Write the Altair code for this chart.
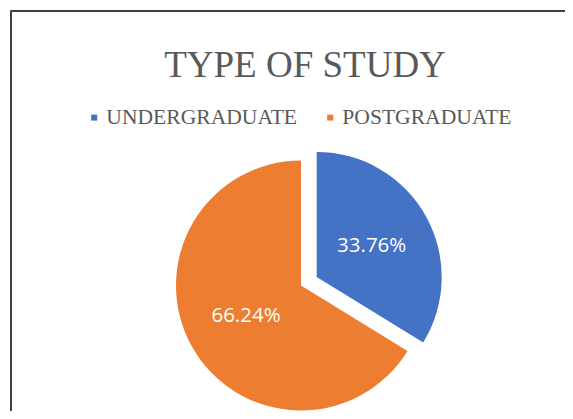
import altair as alt
import pandas as pd

# ---- data ----
categories = ["UNDERGRADUATE", "POSTGRADUATE"]
shares = [33.76, 66.24]
order = [0, 1]
colors = ["#4472C4", "#ED7D31"]
title_text = "TYPE OF STUDY"

df = pd.DataFrame({"cat": categories, "value": shares, "idx": order})

# ---- layout (chart coordinates, page offset 8px) ----
W, H = 557, 403
CX, CY = 293, 277.5          # centre of the pie
R = 125                      # pie radius
EXP_DX, EXP_DY = 15.7, -8.5  # explosion of the first slice
LABEL_R = 63

base = alt.Chart(df).transform_calculate(
    label="format(datum.value, '.2f') + '%'"
)

color_enc = alt.Color(
    "cat:N",
    scale=alt.Scale(domain=categories, range=colors),
    legend=alt.Legend(
        title=None,
        orient="none",
        legendX=75.4,
        legendY=98.5,
        direction="horizontal",
        symbolType="square",
        symbolSize=36,
        symbolStrokeWidth=0,
        symbolOpacity=1,
        labelFont="Liberation Serif",
        labelFontSize=21.6,
        labelColor="#595959",
        labelOffset=1.3,
        columnPadding=22,
        labelLimit=0,
    ),
)
theta_enc = alt.Theta("value:Q", stack=True)
order_enc = alt.Order("idx:Q")

def slice_layer(name, cx, cy):
    arc = base.mark_arc(outerRadius=R, strokeWidth=0).encode(
        theta=theta_enc,
        color=color_enc,
        order=order_enc,
        opacity=alt.condition(f"datum.cat == '{name}'", alt.value(1), alt.value(0)),
        x=alt.value(cx),
        y=alt.value(cy),
    )
    txt = base.mark_text(
        radius=LABEL_R, font="Open Sans", fontSize=20.5, color="white",
        baseline="middle", align="center",
    ).encode(
        theta=theta_enc,
        order=order_enc,
        text="label:N",
        opacity=alt.condition(f"datum.cat == '{name}'", alt.value(1), alt.value(0)),
        x=alt.value(cx),
        y=alt.value(cy),
    )
    return arc, txt

post_arc, post_txt = slice_layer("POSTGRADUATE", CX, CY)
under_arc, under_txt = slice_layer("UNDERGRADUATE", CX + EXP_DX, CY + EXP_DY)

one = pd.DataFrame({"t": [title_text]})
title = alt.Chart(one).mark_text(
    font="Liberation Serif", fontSize=37, color="#595959",
    align="center", baseline="alphabetic",
).encode(text="t:N", x=alt.value(297), y=alt.value(69))

frame_top = alt.Chart(one).mark_rule(color="#404040", strokeWidth=2).encode(
    x=alt.value(2.5), x2=alt.value(W), y=alt.value(3)
)
frame_left = alt.Chart(one).mark_rule(color="#404040", strokeWidth=2).encode(
    x=alt.value(3), y=alt.value(2.5), y2=alt.value(H)
)

chart = alt.layer(
    frame_top, frame_left, title, post_arc, under_arc, post_txt, under_txt
).properties(
    width=W, height=H, padding=0, autosize="none"
).configure_view(stroke=None)

chart.save("out.html", embed_options={"renderer": "svg", "actions": False})
